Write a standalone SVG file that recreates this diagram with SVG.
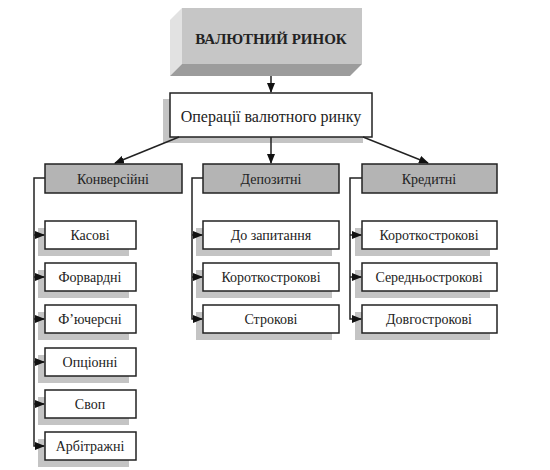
<svg xmlns="http://www.w3.org/2000/svg" width="550" height="470" viewBox="0 0 550 470" font-family="'Liberation Serif','Times New Roman','DejaVu Serif',serif">
<style>
text{font-family:'Liberation Serif','Times New Roman','DejaVu Serif',serif;fill:#222;text-anchor:middle;dominant-baseline:central}
.box{fill:#fff;stroke:#222;stroke-width:1.5}
.cat{fill:#b4b4b4;stroke:#222;stroke-width:1.5}
.sh{fill:#c4c4c4}
.ln{fill:none;stroke:#222;stroke-width:1.5}
.t{font-size:14px}
</style>
<defs>
<marker id="ah" markerWidth="10" markerHeight="8" refX="9" refY="4" orient="auto" markerUnits="userSpaceOnUse">
<path d="M0,0 L10,4 L0,8 Z" fill="#111"/>
</marker>
</defs>
<rect width="550" height="470" fill="#fff"/>
<g id="root">
<polygon points="182,8 170,20 170,76 182,64" fill="#e2e2e2"/>
<polygon points="182,64 362,64 350,76 170,76" fill="#9c9c9c"/>
<rect x="182" y="8" width="180" height="56" fill="#c6c6c6"/>
<text x="271" y="39" style="font-size:15px;font-weight:bold">ВАЛЮТНИЙ РИНОК</text>
</g>
<g id="ops">
<rect class="sh" x="163" y="99" width="200" height="44"/>
<rect class="box" x="170" y="93" width="202" height="44"/>
<text x="271" y="116" style="font-size:16px">Операції валютного ринку</text>
</g>
<g id="konv"><rect class="cat" x="45" y="164" width="137" height="29"/><text class="t" x="113" y="179">Конверсійні</text></g>
<g id="depoz"><rect class="cat" x="203" y="164" width="136" height="29"/><text class="t" x="271" y="179">Депозитні</text></g>
<g id="kred"><rect class="cat" x="362" y="164" width="135" height="29"/><text class="t" x="429" y="179">Кредитні</text></g>

<g id="kasovi"><rect class="sh" x="38" y="228" width="91" height="28"/><rect class="box" x="45" y="221" width="91" height="28"/><text class="t" x="90" y="235">Касові</text></g>
<g id="forvardni"><rect class="sh" x="38" y="270" width="91" height="28"/><rect class="box" x="45" y="263" width="91" height="28"/><text class="t" x="90" y="277">Форвардні</text></g>
<g id="fyuchersni"><rect class="sh" x="38" y="312" width="91" height="28"/><rect class="box" x="45" y="305" width="91" height="28"/><text class="t" x="90" y="319">Ф’ючерсні</text></g>
<g id="optsionni"><rect class="sh" x="38" y="355" width="91" height="28"/><rect class="box" x="45" y="348" width="91" height="28"/><text class="t" x="90" y="362">Опціонні</text></g>
<g id="svop"><rect class="sh" x="38" y="397" width="91" height="28"/><rect class="box" x="45" y="390" width="91" height="28"/><text class="t" x="90" y="404">Своп</text></g>
<g id="arbitrazhni"><rect class="sh" x="38" y="439" width="91" height="28"/><rect class="box" x="45" y="432" width="91" height="28"/><text class="t" x="90" y="446">Арбітражні</text></g>

<g id="do_zapytannya"><rect class="sh" x="196" y="228" width="136" height="28"/><rect class="box" x="203" y="221" width="136" height="28"/><text class="t" x="271" y="235">До запитання</text></g>
<g id="korotko_d"><rect class="sh" x="196" y="270" width="136" height="28"/><rect class="box" x="203" y="263" width="136" height="28"/><text class="t" x="271" y="277">Короткострокові</text></g>
<g id="strokovi"><rect class="sh" x="196" y="312" width="136" height="28"/><rect class="box" x="203" y="305" width="136" height="28"/><text class="t" x="271" y="319">Строкові</text></g>

<g id="korotko_k"><rect class="sh" x="355" y="228" width="135" height="28"/><rect class="box" x="362" y="221" width="135" height="28"/><text class="t" x="429" y="235">Короткострокові</text></g>
<g id="serednyo"><rect class="sh" x="355" y="270" width="135" height="28"/><rect class="box" x="362" y="263" width="135" height="28"/><text class="t" x="429" y="277">Середньострокові</text></g>
<g id="dovgo"><rect class="sh" x="355" y="312" width="135" height="28"/><rect class="box" x="362" y="305" width="135" height="28"/><text class="t" x="429" y="319">Довгострокові</text></g>

<g id="connectors" class="ln">
<line class="ln" x1="271" y1="76" x2="271" y2="92" marker-end="url(#ah)"/>
<line class="ln" x1="179" y1="137" x2="115" y2="163" marker-end="url(#ah)"/>
<line class="ln" x1="271" y1="137" x2="271" y2="163" marker-end="url(#ah)"/>
<line class="ln" x1="363" y1="137" x2="428" y2="163" marker-end="url(#ah)"/>
<polyline class="ln" points="45,178 34,178 34,446 44,446" marker-end="url(#ah)"/>
<line class="ln" x1="34" y1="235" x2="44" y2="235" marker-end="url(#ah)"/>
<line class="ln" x1="34" y1="277" x2="44" y2="277" marker-end="url(#ah)"/>
<line class="ln" x1="34" y1="319" x2="44" y2="319" marker-end="url(#ah)"/>
<line class="ln" x1="34" y1="362" x2="44" y2="362" marker-end="url(#ah)"/>
<line class="ln" x1="34" y1="404" x2="44" y2="404" marker-end="url(#ah)"/>
<polyline class="ln" points="203,178 192,178 192,319 202,319" marker-end="url(#ah)"/>
<line class="ln" x1="192" y1="235" x2="202" y2="235" marker-end="url(#ah)"/>
<line class="ln" x1="192" y1="277" x2="202" y2="277" marker-end="url(#ah)"/>
<polyline class="ln" points="362,178 350,178 350,319 361,319" marker-end="url(#ah)"/>
<line class="ln" x1="350" y1="235" x2="361" y2="235" marker-end="url(#ah)"/>
<line class="ln" x1="350" y1="277" x2="361" y2="277" marker-end="url(#ah)"/>
</g>
</svg>
